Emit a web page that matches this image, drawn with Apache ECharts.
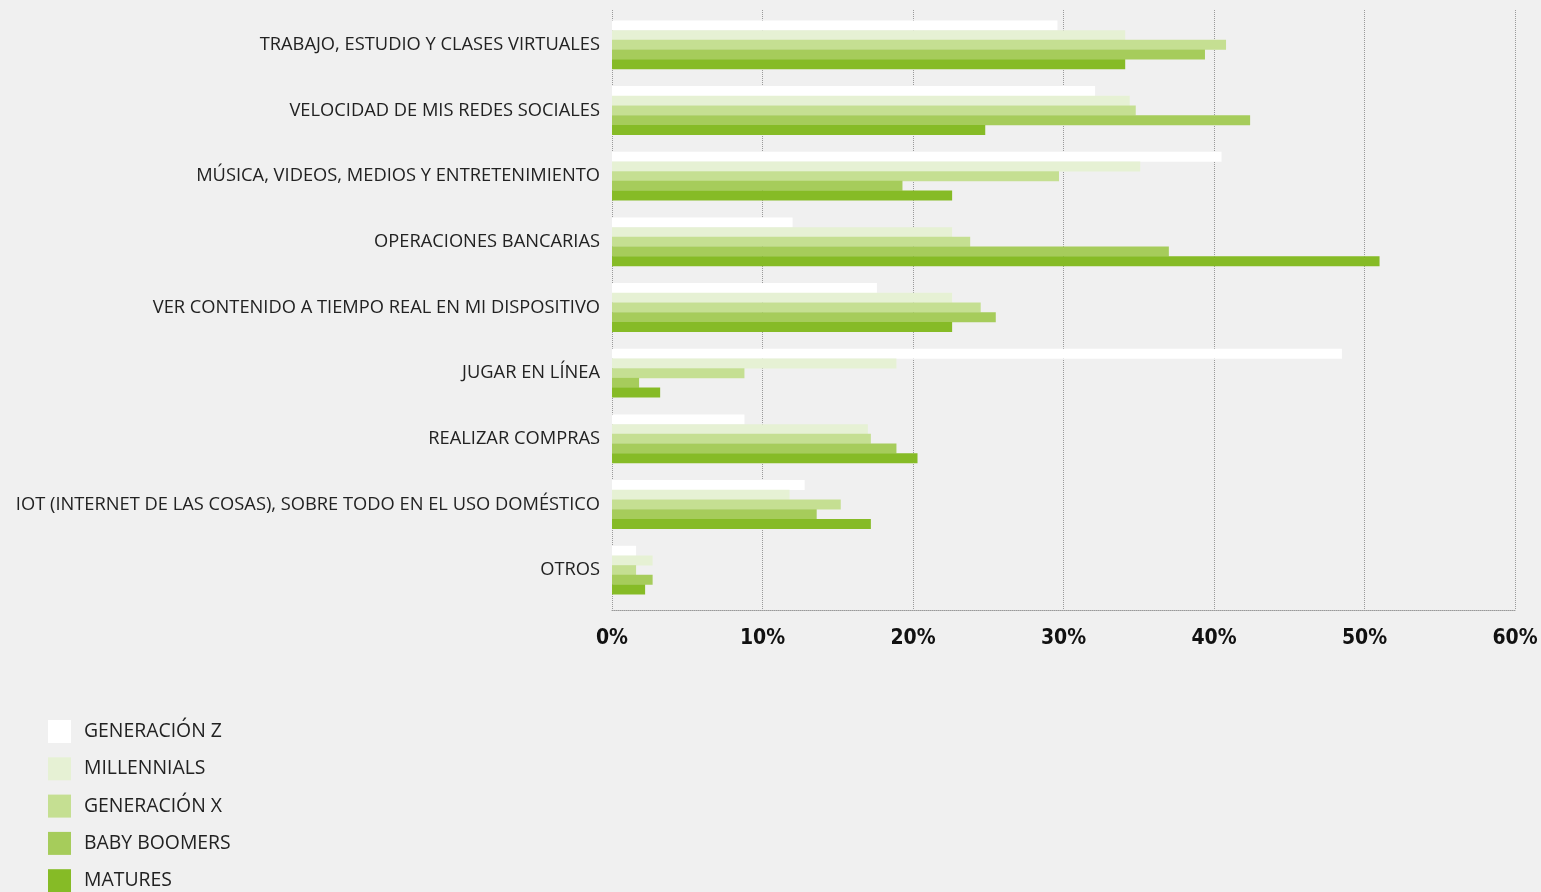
<!DOCTYPE html>
<html>
<head>
<meta charset="utf-8">
<script src="https://cdn.jsdelivr.net/npm/echarts@6/dist/echarts.min.js"></script>
<style>
  html, body { margin: 0; padding: 0; background: #f0f0f0; }
  #chart { width: 1541px; height: 892px; }
</style>
</head>
<body>
<div id="chart"></div>
<script>
// Uses of connectivity, by generation (percent of respondents)
const categories = [
  'TRABAJO, ESTUDIO Y CLASES VIRTUALES',
  'VELOCIDAD DE MIS REDES SOCIALES',
  'MÚSICA, VIDEOS, MEDIOS Y ENTRETENIMIENTO',
  'OPERACIONES BANCARIAS',
  'VER CONTENIDO A TIEMPO REAL EN MI DISPOSITIVO',
  'JUGAR EN LÍNEA',
  'REALIZAR COMPRAS',
  'IOT (INTERNET DE LAS COSAS), SOBRE TODO EN EL USO DOMÉSTICO',
  'OTROS'
];
const seriesNames = ['GENERACIÓN Z', 'MILLENNIALS', 'GENERACIÓN X', 'BABY BOOMERS', 'MATURES'];
const generacionZ = [29.6, 32.1, 40.5, 12.0, 17.6, 48.5, 8.8, 12.8, 1.6];
const millennials = [34.1, 34.4, 35.1, 22.6, 22.6, 18.9, 17.0, 11.8, 2.7];
const generacionX = [40.8, 34.8, 29.7, 23.8, 24.5, 8.8, 17.2, 15.2, 1.6];
const babyBoomers = [39.4, 42.4, 19.3, 37.0, 25.5, 1.8, 18.9, 13.6, 2.7];
const matures = [34.1, 24.8, 22.6, 51.0, 22.6, 3.2, 20.3, 17.2, 2.2];
const xTicks = [0, 10, 20, 30, 40, 50, 60];

const colors = ['#ffffff', '#e6f1d4', '#c5df92', '#a6cc5b', '#86bb26'];
const values = [generacionZ, millennials, generacionX, babyBoomers, matures];

const xMin = xTicks[0];
const xMax = xTicks[xTicks.length - 1];

const chart = echarts.init(document.getElementById('chart'));
chart.setOption({
  backgroundColor: '#f0f0f0',
  animation: false,
  // grid 0: bars and category labels; grid 1: the dotted frame and percent scale
  grid: [
    { left: 612, right: 26, top: 12, bottom: 289 },
    { left: 612, right: 26, top: 10, bottom: 282 }
  ],
  legend: {
    orient: 'vertical',
    left: 48,
    top: 720,
    height: 240,
    padding: 0,
    itemWidth: 23,
    itemHeight: 23,
    itemGap: 14.3,
    icon: 'rect',
    data: seriesNames,
    textStyle: {
      fontFamily: 'Open Sans',
      fontSize: 19.4,
      lineHeight: 23,
      color: '#222',
      padding: [0, 0, 0, 8]
    }
  },
  xAxis: [
    {
      type: 'value', gridIndex: 0, min: xMin, max: xMax, interval: 10,
      show: false
    },
    {
      type: 'value', gridIndex: 1, min: xMin, max: xMax, interval: 10,
      axisLine: { show: true, lineStyle: { color: '#999', type: 'dotted', width: 1 } },
      axisTick: { show: false },
      splitLine: { show: true, lineStyle: { color: '#999', type: 'dotted', width: 1 } },
      axisLabel: {
        formatter: v => v + '%',
        margin: 18,
        fontFamily: 'DejaVu Sans Condensed, Liberation Sans Narrow, sans-serif',
        fontWeight: 'bold',
        fontSize: 21,
        color: '#111'
      }
    }
  ],
  yAxis: [
    {
      type: 'category',
      gridIndex: 0,
      inverse: true,
      data: categories,
      axisLine: { show: false },
      axisTick: { show: false },
      axisLabel: {
        margin: 12,
        fontFamily: 'Open Sans',
        fontSize: 18.3,
        color: '#222',
        padding: [5, 0, 0, 0]
      }
    },
    {
      type: 'category',
      gridIndex: 1,
      inverse: true,
      data: categories,
      show: false
    }
  ],
  series: seriesNames.map((name, i) => ({
    name,
    type: 'bar',
    xAxisIndex: 0,
    yAxisIndex: 0,
    data: values[i],
    barWidth: 10,
    barGap: '-3%',
    itemStyle: { color: colors[i] }
  }))
});
</script>
</body>
</html>
